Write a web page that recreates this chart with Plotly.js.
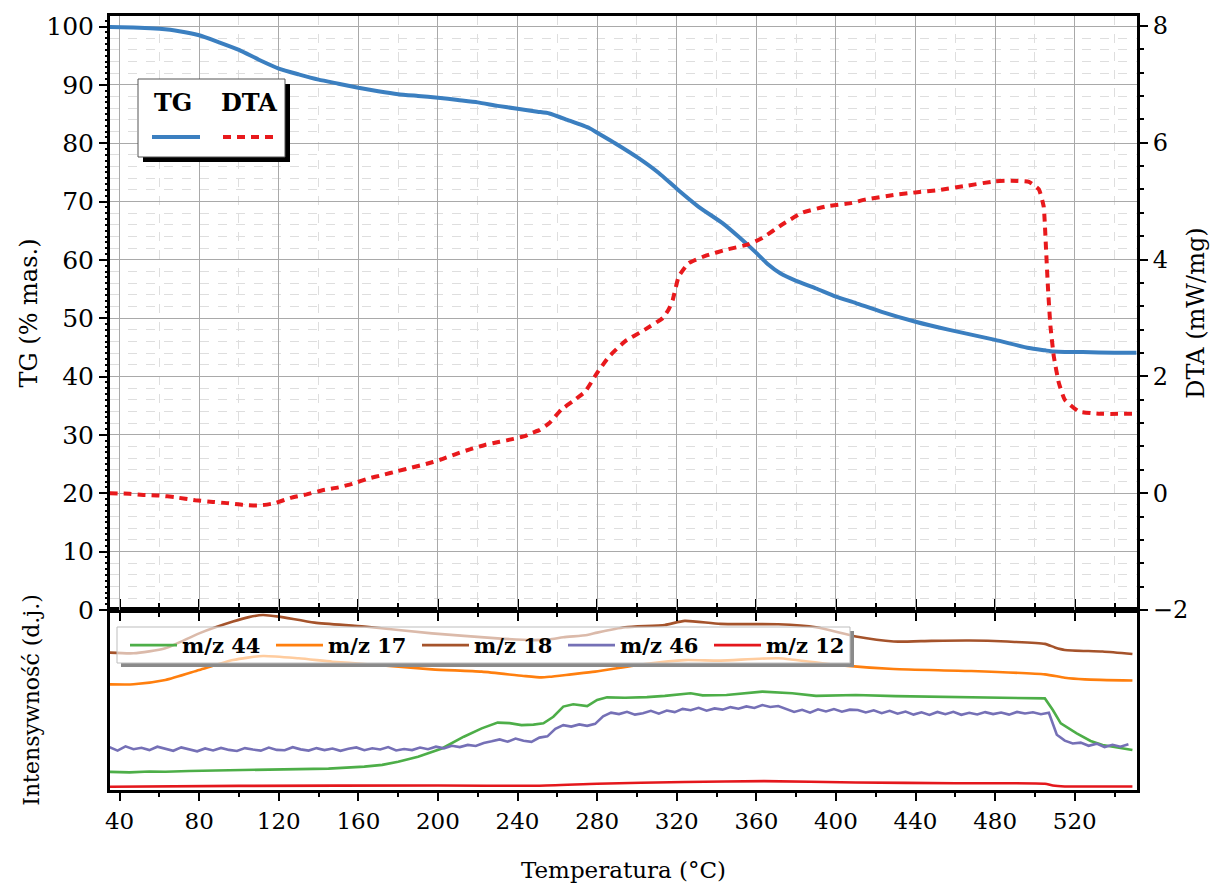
<!DOCTYPE html>
<html>
<head>
<meta charset="utf-8">
<script src="https://cdn.plot.ly/plotly-3.0.1.min.js"></script>
<style>html,body{margin:0;padding:0;background:#fff;}#chart{width:1210px;height:885px;}</style>
</head>
<body>
<div id="chart"></div>
<script>
// ---- TG (% mas.) ----
const tgT = [35, 50, 60, 70, 80, 90, 100, 110, 120, 130, 140, 150, 160, 170, 180, 190, 200, 210, 220, 230, 240, 250, 256, 265, 276, 280, 289, 301, 311, 320, 331, 343, 351, 360, 366, 372, 380, 390, 400, 410, 423, 440, 457, 480, 497, 505, 509, 515, 524, 540, 551];
const tgV = [99.9, 99.8, 99.6, 99.2, 98.5, 97.3, 96.0, 94.3, 92.8, 91.8, 90.9, 90.2, 89.5, 88.9, 88.4, 88.1, 87.8, 87.4, 87.0, 86.4, 85.9, 85.4, 85.1, 84.0, 82.6, 81.8, 80.0, 77.4, 74.9, 72.2, 69.1, 66.3, 64.0, 61.2, 59.2, 57.7, 56.4, 55.1, 53.7, 52.6, 51.1, 49.4, 48.0, 46.3, 44.9, 44.5, 44.3, 44.2, 44.2, 44.1, 44.1];

// ---- DTA (mW/mg) ----
const dtaT = [35, 45, 52, 60, 68, 78, 87, 94, 102, 109, 113, 118, 126, 134, 142, 150, 157, 165, 172, 180, 187, 194, 201, 209, 216, 224, 231, 238, 244, 247, 251, 256, 262, 268, 274, 280, 286, 294, 304, 313, 316, 318, 321, 326, 335, 345, 356, 363, 373, 383, 395, 408, 415, 430, 440, 452, 465, 480, 488, 497, 502, 504.4, 505.6, 506.6, 507.8, 509.5, 512, 515, 522, 532, 551];
const dtaV = [0.0, -0.01, -0.03, -0.04, -0.07, -0.12, -0.15, -0.17, -0.2, -0.21, -0.2, -0.17, -0.08, -0.02, 0.05, 0.1, 0.16, 0.25, 0.31, 0.38, 0.44, 0.5, 0.57, 0.67, 0.75, 0.83, 0.88, 0.93, 0.98, 1.03, 1.08, 1.2, 1.43, 1.58, 1.74, 2.06, 2.34, 2.6, 2.8, 3.0, 3.15, 3.31, 3.71, 3.94, 4.07, 4.17, 4.26, 4.37, 4.6, 4.8, 4.91, 4.97, 5.03, 5.11, 5.15, 5.19, 5.26, 5.34, 5.35, 5.33, 5.2, 4.91, 4.17, 3.49, 2.86, 2.34, 1.89, 1.6, 1.4, 1.36, 1.36];

// ---- MS ion currents (arbitrary units) ----
const t44 = [35, 45, 55, 63, 75, 85, 97, 110, 120, 130, 145, 163, 172, 180, 190, 202, 213, 222, 230, 236, 242, 248, 253, 258, 263, 268, 275, 280, 285, 294, 305, 314, 323, 327, 333, 345, 363, 378, 390, 410, 430, 448, 470, 490, 505, 509, 513, 521, 528, 534, 549];
const v44 = [9.7, 9.4, 9.9, 9.7, 10.2, 10.4, 10.7, 10.9, 10.8, 11.1, 11.5, 12.6, 13.6, 15.4, 18.2, 22.8, 29.4, 34.1, 37.3, 37.0, 35.9, 36.2, 36.9, 40.6, 46.3, 47.6, 46.6, 50.0, 51.5, 51.3, 51.6, 52.3, 53.6, 53.8, 52.6, 52.8, 54.7, 53.8, 52.3, 52.8, 52.2, 51.9, 51.6, 51.3, 50.9, 44.4, 36.9, 31.3, 27.0, 24.7, 21.9];

const t17 = [35, 47, 63, 80, 97, 112, 130, 147, 163, 197, 222, 243, 252, 256, 267, 279, 304, 324, 342, 371, 400, 429, 467, 505, 515, 525, 549];
const v17 = [58.8, 58.8, 61.2, 66.8, 72.4, 74.7, 73.4, 71.5, 70.2, 67.2, 65.9, 63.5, 62.7, 63.0, 64.4, 65.9, 70.2, 72.4, 72.1, 73.4, 69.7, 67.4, 66.3, 64.4, 62.5, 61.6, 60.9];

const t18 = [35, 47, 63, 80, 97, 105, 112, 120, 138, 163, 197, 230, 247, 256, 263, 275, 280, 294, 314, 324, 342, 371, 390, 410, 429, 448, 467, 486, 505, 510, 515, 534, 549];
const v18 = [76.6, 76.2, 79.0, 87.4, 94.0, 96.5, 97.7, 96.8, 93.4, 91.2, 87.4, 84.6, 83.6, 84.0, 85.2, 86.5, 87.8, 90.8, 92.1, 94.4, 92.7, 92.5, 90.8, 85.6, 82.8, 83.2, 83.4, 82.8, 81.5, 79.5, 78.1, 77.2, 75.8];

const t46 = [35, 39, 43, 47, 51, 55, 59, 63, 67, 71, 75, 79, 83, 87, 91, 95, 99, 103, 107, 111, 115, 119, 123, 127, 131, 135, 139, 143, 147, 151, 155, 159, 163, 167, 171, 175, 179, 183, 187, 191, 195, 199, 203, 207, 211, 215, 219, 223, 227, 231, 235, 239, 243, 247, 251, 255, 259, 263, 267, 271, 275, 279, 283, 287, 291, 295, 299, 303, 307, 311, 315, 319, 323, 327, 331, 335, 339, 343, 347, 351, 355, 359, 363, 367, 371, 375, 379, 383, 387, 391, 395, 399, 403, 407, 411, 415, 419, 423, 427, 431, 435, 439, 443, 447, 451, 455, 459, 463, 467, 471, 475, 479, 483, 487, 491, 495, 499, 503, 507, 511, 515, 519, 523, 527, 531, 535, 539, 543, 547];
const v46 = [23.5, 21.6, 24.0, 22.4, 23.2, 21.9, 23.8, 22.6, 21.5, 23.4, 22.1, 21.2, 22.8, 21.7, 23.1, 22.0, 21.4, 23.0, 22.2, 21.6, 23.3, 22.0, 21.8, 23.5, 22.3, 21.6, 23.0, 21.9, 22.8, 21.5, 22.7, 23.4, 21.8, 22.9, 22.2, 23.6, 21.7, 22.5, 21.9, 23.3, 22.4, 23.8, 22.9, 24.3, 23.6, 24.8, 24.2, 25.9, 26.8, 27.9, 26.6, 28.4, 27.1, 26.5, 28.9, 29.6, 33.8, 35.9, 35.1, 36.3, 35.5, 36.6, 40.8, 42.9, 42.1, 43.4, 41.8, 42.6, 43.9, 42.3, 44.1, 43.2, 45.0, 44.3, 45.6, 44.0, 45.3, 44.6, 46.0, 45.1, 46.4, 45.5, 47.2, 46.1, 46.6, 44.9, 43.3, 44.5, 42.9, 44.8, 43.6, 44.9, 43.4, 44.6, 44.4, 43.0, 44.2, 42.6, 43.9, 42.3, 43.5, 41.8, 43.1, 41.6, 43.3, 42.0, 43.4, 41.7, 42.8, 41.9, 43.2, 42.1, 43.0, 41.8, 43.3, 42.4, 43.1, 42.0, 42.8, 30.5, 27.2, 25.6, 26.1, 24.3, 25.5, 23.6, 24.9, 23.8, 25.2];

const t12 = [35, 100, 200, 250, 280, 324, 364, 410, 460, 505, 509, 515, 549];
const v12 = [1.3, 1.8, 2.0, 1.9, 3.0, 4.0, 4.5, 3.7, 3.3, 3.0, 2.0, 1.5, 1.5];

const msNames = ['m/z 44', 'm/z 17', 'm/z 18', 'm/z 46', 'm/z 12'];

// ---- geometry helpers (page px -> paper) ----
const W = 1210, H = 885, ML = 110, MR = 73, MT = 16, MB = 95;
const PW = W - ML - MR, PH = H - MT - MB;
const px = v => (v - ML) / PW;
const py = v => (H - MB - v) / PH;
const split = py(610);

const SERIF = 'DejaVu Serif, serif';
const C = {tg: '#3b7fc0', dta: '#e8191c', m44: '#4dae48', m17: '#ff7f0e', m18: '#a5532b', m46: '#7570b6', m12: '#e4171c'};

const traces = [
  {x: t44, y: v44, name: msNames[0], xaxis: 'x', yaxis: 'y', mode: 'lines', line: {color: C.m44, width: 2.6}},
  {x: t17, y: v17, name: msNames[1], xaxis: 'x', yaxis: 'y', mode: 'lines', line: {color: C.m17, width: 2.6, shape: 'spline', smoothing: 0.6}},
  {x: t18, y: v18, name: msNames[2], xaxis: 'x', yaxis: 'y', mode: 'lines', line: {color: C.m18, width: 2.6, shape: 'spline', smoothing: 0.6}},
  {x: t46, y: v46, name: msNames[3], xaxis: 'x', yaxis: 'y', mode: 'lines', line: {color: C.m46, width: 2.6}},
  {x: t12, y: v12, name: msNames[4], xaxis: 'x', yaxis: 'y', mode: 'lines', line: {color: C.m12, width: 2.6, shape: 'spline', smoothing: 0.5}},
  {x: tgT, y: tgV, name: 'TG', xaxis: 'x2', yaxis: 'y2', mode: 'lines', showlegend: false, line: {color: C.tg, width: 4, shape: 'spline', smoothing: 0.5}},
  {x: dtaT, y: dtaV, name: 'DTA', xaxis: 'x2', yaxis: 'y3', mode: 'lines', showlegend: false, line: {color: C.dta, width: 4, dash: '8px,6px', shape: 'spline', smoothing: 0.4}},
  {x: [], y: [], xaxis: 'x2', yaxis: 'y4', mode: 'lines', showlegend: false, hoverinfo: 'skip'}
];

const axLine = {showline: true, linecolor: '#000', linewidth: 3, zeroline: false};
const xCommon = Object.assign({}, axLine, {
  range: [35.2, 551.3], tick0: 40, dtick: 40, ticks: 'outside', ticklen: 8, tickwidth: 2, tickcolor: '#000'
});

const layout = {
  width: W, height: H,
  margin: {l: ML, r: MR, t: MT, b: MB},
  paper_bgcolor: '#fff', plot_bgcolor: '#fff',
  font: {family: SERIF, color: '#000'},
  showlegend: true,
  legend: {
    orientation: 'h', x: px(125), y: py(625), xanchor: 'left', yanchor: 'top',
    bgcolor: 'rgba(0,0,0,0)', borderwidth: 0,
    font: {family: SERIF, size: 21, color: '#000', weight: 'bold'},
    itemwidth: 47, entrywidth: 84, entrywidthmode: 'pixels', tracegroupgap: 0
  },
  xaxis: Object.assign({}, xCommon, {
    domain: [0, 1], anchor: 'y', mirror: 'ticks', showgrid: false,
    minor: {dtick: 20, ticks: 'outside', ticklen: 4, tickwidth: 2, tickcolor: '#000', showgrid: false},
    tickfont: {family: SERIF, size: 23},
    title: {text: 'Temperatura (°C)', font: {family: SERIF, size: 23}, standoff: 30}
  }),
  xaxis2: Object.assign({}, xCommon, {
    domain: [0, 1], anchor: 'y2', matches: 'x', mirror: true, showticklabels: false,
    showgrid: true, gridcolor: '#a9a9a9', gridwidth: 1,
    minor: {dtick: 20, ticks: 'outside', ticklen: 4, tickwidth: 2, tickcolor: '#000', showgrid: true, gridcolor: '#dedede', griddash: 'dash', gridwidth: 1}
  }),
  yaxis: Object.assign({}, axLine, {
    domain: [0, split], anchor: 'x', range: [-0.5, 100.5], mirror: true, ticks: '', showticklabels: false, showgrid: false,
    title: {text: 'Intensywność (d.j.)', font: {family: SERIF, size: 22}, standoff: 62}
  }),
  yaxis2: Object.assign({}, axLine, {
    domain: [split, 1], anchor: 'x2', range: [0, 101.8], dtick: 10, ticks: 'outside', ticklen: 8, tickwidth: 2, tickcolor: '#000',
    showgrid: true, gridcolor: '#a9a9a9', gridwidth: 1,
    minor: {dtick: 2, ticks: '', showgrid: true, gridcolor: '#dedede', griddash: 'dash', gridwidth: 1},
    tickfont: {family: SERIF, size: 25},
    title: {text: 'TG (% mas.)', font: {family: SERIF, size: 24}, standoff: 2}
  }),
  yaxis3: Object.assign({}, axLine, {
    overlaying: 'y2', side: 'right', anchor: 'x2', range: [-2, 8.17], dtick: 2, ticks: 'outside', ticklen: 8, tickwidth: 2, tickcolor: '#000',
    showgrid: false,
    minor: {dtick: 0.4, ticks: 'outside', ticklen: 4, tickwidth: 2, tickcolor: '#000', showgrid: false},
    tickfont: {family: SERIF, size: 24},
    title: {text: 'DTA (mW/mg)', font: {family: SERIF, size: 24}, standoff: 8}
  }),
  yaxis4: {
    overlaying: 'y2', side: 'left', anchor: 'x2', range: [0, 101.8], dtick: 1, ticks: 'outside', ticklen: 4, tickwidth: 2, tickcolor: '#000',
    showticklabels: false, showgrid: false, showline: false, zeroline: false
  },
  shapes: [
    // TG/DTA legend box with shadow
    {type: 'rect', xref: 'paper', yref: 'paper', x0: px(143), x1: px(290), y0: py(84), y1: py(162), fillcolor: '#000', line: {width: 0}, layer: 'above'},
    {type: 'rect', xref: 'paper', yref: 'paper', x0: px(138), x1: px(285), y0: py(79), y1: py(157), fillcolor: '#fff', line: {color: '#555', width: 1}, layer: 'above'},
    {type: 'line', xref: 'paper', yref: 'paper', x0: px(152), x1: px(200), y0: py(137), y1: py(137), line: {color: C.tg, width: 4}, layer: 'above'},
    {type: 'line', xref: 'paper', yref: 'paper', x0: px(223), x1: px(274), y0: py(137), y1: py(137), line: {color: C.dta, width: 4, dash: '8px,6px'}, layer: 'above'},
    // MS legend box: shadow strips + translucent panel
    {type: 'rect', xref: 'paper', yref: 'paper', x0: px(121), x1: px(854), y0: py(663), y1: py(667), fillcolor: '#8a8a8a', line: {width: 0}, layer: 'above'},
    {type: 'rect', xref: 'paper', yref: 'paper', x0: px(850), x1: px(854), y0: py(631), y1: py(667), fillcolor: '#8a8a8a', line: {width: 0}, layer: 'above'},
    {type: 'rect', xref: 'paper', yref: 'paper', x0: px(117), x1: px(850), y0: py(627), y1: py(663), fillcolor: 'rgba(255,255,255,0.6)', line: {color: '#bdbdbd', width: 1}, layer: 'above'}
  ],
  annotations: [
    {xref: 'paper', yref: 'paper', x: px(173), y: py(103), xanchor: 'center', yanchor: 'middle', text: '<b>TG</b>', showarrow: false, font: {family: SERIF, size: 24, color: '#000'}},
    {xref: 'paper', yref: 'paper', x: px(249), y: py(103), xanchor: 'center', yanchor: 'middle', text: '<b>DTA</b>', showarrow: false, font: {family: SERIF, size: 24, color: '#000'}}
  ]
};

Plotly.newPlot('chart', traces, layout, {displayModeBar: false, staticPlot: true});
</script>
</body>
</html>
